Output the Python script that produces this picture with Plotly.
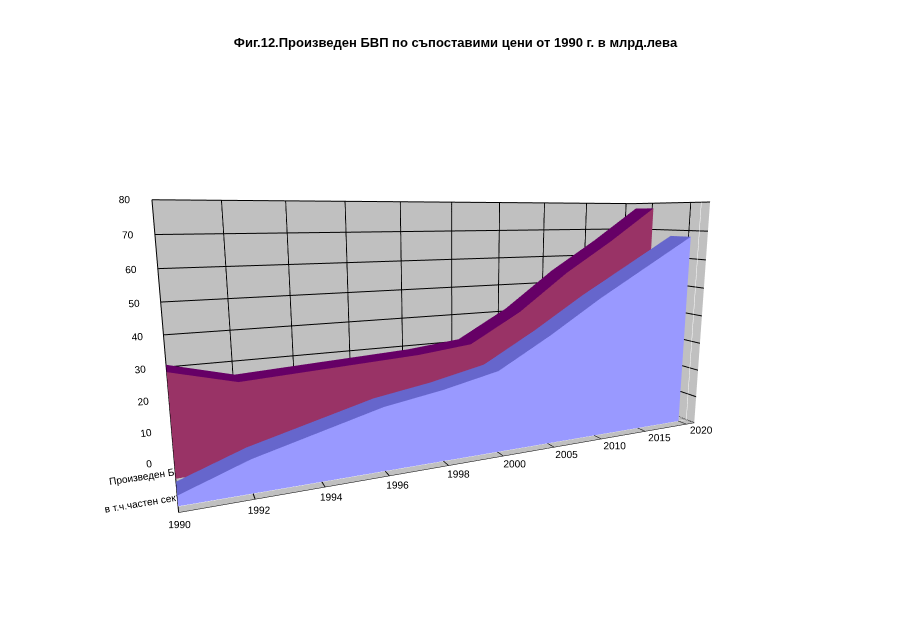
import plotly.graph_objects as go

years = ["1990", "1992", "1994", "1996", "1998", "2000", "2005", "2010", "2015", "2020"]
series = ["в т.ч.частен сектор", "Произведен БВП"]
gdp = [32, 27, 28, 29, 30, 32, 42, 55, 66, 78]
private = [3, 10, 15, 20, 23, 27, 37, 48, 58, 68]

xs = list(range(len(years)))
depth = 0.5


def ribbon(values, y0, face, top):
    front = go.Surface(
        x=[xs, xs], y=[[y0] * len(xs)] * 2, z=[[0] * len(xs), values],
        surfacecolor=[[0] * len(xs)] * 2, colorscale=[[0, face], [1, face]],
        showscale=False, lighting=dict(ambient=1, diffuse=0, specular=0),
        hoverinfo="skip")
    cap = go.Surface(
        x=[xs, xs], y=[[y0] * len(xs), [y0 + depth] * len(xs)], z=[values, values],
        surfacecolor=[[0] * len(xs)] * 2, colorscale=[[0, top], [1, top]],
        showscale=False, lighting=dict(ambient=1, diffuse=0, specular=0),
        hoverinfo="skip")
    return [front, cap]


fig = go.Figure(ribbon(gdp, 1, "#993366", "#660066") + ribbon(private, 0, "#9999FF", "#6666CC"))

ax = dict(showbackground=True, backgroundcolor="#C0C0C0", gridcolor="black",
          linecolor="black", tickfont=dict(size=11, family="Arial", color="black"), title="")
fig.update_layout(
    title=dict(text="<b>Фиг.12.Произведен БВП по съпоставими цени от 1990 г. в млрд.лева</b>",
               x=0.5, y=0.95, font=dict(size=13, family="Arial", color="black")),
    paper_bgcolor="white",
    margin=dict(l=40, r=40, t=60, b=10),
    scene=dict(
        xaxis=dict(ax, tickvals=xs, ticktext=years, range=[0, 9.2], tickangle=0),
        yaxis=dict(ax, tickvals=[0.25, 1.25], ticktext=series, range=[-0.2, 1.8]),
        zaxis=dict(ax, range=[0, 80], dtick=10),
        aspectmode="manual", aspectratio=dict(x=2.2, y=0.5, z=1.0),
        camera=dict(eye=dict(x=-1.1, y=-2.4, z=0.45), center=dict(x=0, y=0, z=-0.05)),
    ),
)
fig.write_html("out.html")
